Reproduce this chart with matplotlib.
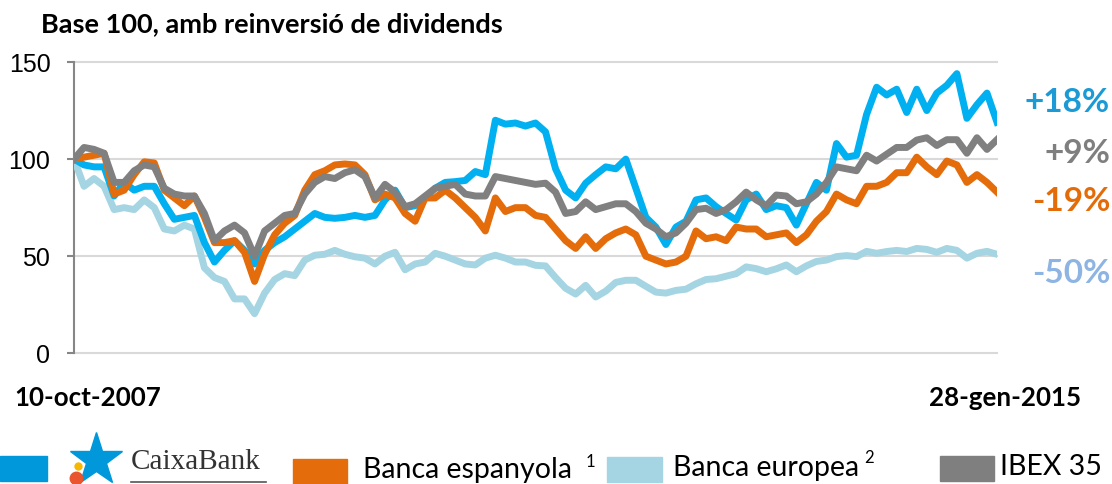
import matplotlib
matplotlib.use("Agg")
import matplotlib.pyplot as plt
from matplotlib.patches import Rectangle
import pandas as pd

# ---- data (base 100) ----
dates = pd.date_range("2007-10-10", "2015-01-28", periods=93)

caixabank = [100, 97, 96, 96, 81, 88, 84, 86, 86, 77,
             69, 70, 71, 57, 47, 53, 58, 53, 46, 53,
             57, 60, 64, 68, 72, 70, 69.5, 70, 71, 70,
             71, 79, 84, 75, 76, 80, 85, 88, 88.4, 89,
             93.6, 92, 120, 118, 118.6, 117, 118.6, 114, 95, 84,
             80, 87.6, 92, 96, 95, 100, 85, 70, 65, 56,
             65, 68, 79, 80, 75.5, 72, 68.6, 79, 82, 74,
             76, 75, 66, 77, 88, 84, 108, 101, 102, 123,
             137, 133, 136, 124, 136, 125, 134, 138, 144, 121,
             128, 134, 119]

banca_esp = [100, 101, 102, 103, 82, 84, 92, 98.6, 98, 84,
             80, 76, 81, 70, 57, 57, 58, 52, 37, 51,
             61, 67, 71, 84, 92, 94, 97, 97.5, 97, 92,
             79, 82, 80, 72, 68, 80, 80, 84, 80, 75,
             70, 63, 80, 73, 75, 75, 71, 70, 64, 58,
             54, 60, 54, 59, 62, 64, 61, 50, 48, 46,
             47, 50, 63, 59, 60, 58, 65, 64, 64, 60,
             61, 62, 57, 61, 68, 73, 82, 79, 77, 86,
             86, 88, 93, 93, 101, 96, 92, 99, 97, 88,
             92, 88, 83]

banca_eur = [100, 86, 90, 86, 74, 75, 74, 79, 75, 64,
             63, 66, 64, 44, 39, 37, 28, 28, 20.4, 31,
             38, 41, 40, 48, 50.5, 51, 53, 51, 49.7, 49,
             46, 50, 52, 43, 46, 47, 51.5, 50, 48, 46,
             45.5, 49, 50.5, 49, 47, 47, 45.3, 45, 39, 33.5,
             30.5, 35, 29, 32, 36.5, 37.6, 37.6, 34.5, 31.5, 31,
             32.4, 33, 35.8, 38, 38.4, 39.7, 41, 44.5, 43.6, 42,
             43.5, 45.5, 42, 45, 47.3, 48, 49.8, 50.3, 49.8, 52.5,
             51.5, 52.4, 53, 52.4, 54, 53.5, 52, 54, 53, 49,
             51.5, 52.5, 51]

ibex = [100, 106, 105, 103, 88, 88, 94, 97, 96, 85,
        82, 81, 81, 72, 58, 63, 66, 62, 50, 63,
        67, 71, 72, 82, 88, 91, 90, 93, 94.5, 91,
        80, 87, 83, 75.5, 77, 81, 85, 86, 87, 82,
        81, 81, 91, 90, 89, 88, 87, 87.6, 83, 72,
        73, 78, 74, 75.5, 77, 77, 73, 67, 64, 60,
        62, 67, 74, 74.7, 72, 74, 78, 83, 79, 76,
        81.5, 81, 77, 78, 82, 88, 96, 95, 94, 102,
        99, 102.5, 106, 106, 109.8, 111, 107, 110, 110, 103,
        111, 105, 110]

end_labels = ["+18%", "+9%", "-19%", "-50%"]
end_label_y = [129, 103, 78, 41]

BLUE = "#00B0F0"
ORANGE = "#E46C0A"
LBLUE = "#A5D5E2"
GRAY = "#808080"

fig = plt.figure(figsize=(11.12, 4.84), dpi=100)
ax = fig.add_axes([74/1112, 1 - 353.3/484, 923/1112, 291.3/484])

# draw order: light blue at the back, grey on top
ax.plot(dates, banca_eur, color=LBLUE, lw=5, solid_joinstyle="round", zorder=3)
ax.plot(dates, caixabank, color=BLUE, lw=5, solid_joinstyle="round", zorder=4)
ax.plot(dates, banca_esp, color=ORANGE, lw=5, solid_joinstyle="round", zorder=5)
ax.plot(dates, ibex, color=GRAY, lw=5, solid_joinstyle="round", zorder=6)

ax.set_xlim(dates[0], dates[-1])
ax.set_ylim(0, 150)
ax.set_yticks([0, 50, 100, 150])
ax.set_xticks([])
ax.grid(axis="y", color="#D9D9D9", lw=1.5)
for gl in ax.get_ygridlines():
    gl.set_clip_on(False)
ax.set_axisbelow(True)
for s in ["top", "right", "bottom"]:
    ax.spines[s].set_visible(False)
ax.spines["left"].set_color("#868686")
ax.spines["left"].set_linewidth(1.5)
ax.tick_params(axis="y", length=5, width=1.5, color="#868686", pad=12,
               labelsize=18)
for lab in ax.get_yticklabels():
    lab.set_fontfamily("Liberation Sans")

# end-of-period labels
lab_colors = ["#1B9AD6", "#7F7F7F", "#E36C09", "#8DB4E2"]
for txt, yv, c in zip(end_labels, end_label_y, lab_colors):
    ax.text(1.1225, yv, txt, transform=ax.get_yaxis_transform(), ha="right",
            va="center", fontsize=24, fontweight="bold", color=c,
            fontfamily="Lato", clip_on=False)

# overlay in pixel coords for title, dates and legend
lay = fig.add_axes([0, 0, 1, 1], zorder=10)
lay.set_xlim(0, 1112)
lay.set_ylim(484, 0)
lay.axis("off")
lay.patch.set_alpha(0)

lay.text(41, 24, "Base 100, amb reinversió de dividends", fontsize=19.5,
         fontweight="bold", fontfamily="Lato", va="center", ha="left")
lay.text(14, 398, "10-oct-2007", fontsize=18.6, fontweight="bold",
         fontfamily="Lato", va="center", ha="left")
lay.text(1081, 398, "28-gen-2015", fontsize=18.6, fontweight="bold",
         fontfamily="Lato", va="center", ha="right")

# legend
lay.add_patch(Rectangle((0, 456), 47, 25, color="#0098DA"))
lay.plot([96], [460], marker="*", markersize=40, color="#0098DA")
lay.plot([76], [478], marker="o", markersize=9, color="#E8552F")
lay.plot([78], [466], marker="o", markersize=5, color="#F6B800")
lay.text(131, 462, "CaixaBank", fontsize=21, fontfamily="Liberation Serif",
         va="center", ha="left", color="#333333")
lay.plot([131, 266], [482, 482], color="#555555", lw=1.2)

lay.add_patch(Rectangle((293, 459), 54, 25, color=ORANGE))
lay.text(363, 470, "Banca espanyola", fontsize=20.5,
         fontfamily="Lato", va="center", ha="left")
lay.text(586, 462, "1", fontsize=12, fontfamily="Lato", va="center", ha="left")
lay.add_patch(Rectangle((607, 457), 55, 25, color=LBLUE))
lay.text(673, 468, "Banca europea", fontsize=20.5,
         fontfamily="Lato", va="center", ha="left")
lay.text(864, 458, "2", fontsize=12, fontfamily="Lato", va="center", ha="left")
lay.add_patch(Rectangle((940, 456), 54, 25, color="#7F7F7F"))
lay.text(1000, 467, "IBEX 35", fontsize=20.5, fontfamily="Lato",
         va="center", ha="left")

fig.savefig("out.png", dpi=100)
